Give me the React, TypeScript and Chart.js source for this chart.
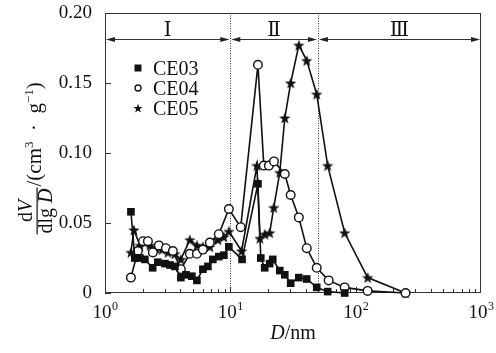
import React, { useEffect, useRef } from 'react';
import { Chart, registerables } from 'chart.js';

Chart.register(...registerables);

const FONT = '"Liberation Serif", "Times New Roman", "DejaVu Serif", serif';
const INK = '#111';

// ---- data (pore diameter D in nm, dV/dlgD in cm3/g) ----
const SERIES_NAMES = ['CE03', 'CE04', 'CE05'];

const CE03_D = [1.61, 1.73, 1.90, 2.08, 2.40, 2.64, 3.01, 3.30, 3.61, 4.03, 4.42, 4.93, 5.41, 6.04, 6.62, 7.25, 8.09, 8.88, 9.73, 12.4, 16.6, 17.5, 18.8, 20.6, 21.8, 24.8, 27.2, 30.3, 35.2, 40.7, 48.9, 59.8, 81.7];
const CE03_V = [0.058, 0.025, 0.025, 0.024, 0.018, 0.022, 0.021, 0.020, 0.019, 0.011, 0.013, 0.012, 0.009, 0.017, 0.019, 0.024, 0.026, 0.027, 0.033, 0.024, 0.078, 0.025, 0.018, 0.021, 0.024, 0.016, 0.013, 0.007, 0.011, 0.010, 0.004, 0.001, 0.0];

const CE04_D = [1.61, 1.83, 2.01, 2.20, 2.41, 2.69, 3.06, 3.48, 4.03, 4.75, 5.41, 6.04, 6.86, 8.09, 9.73, 12.1, 16.6, 18.5, 20.3, 22.3, 27.2, 30.3, 35.2, 40.7, 48.9, 60.9, 81.7, 124.6, 250];
const CE04_V = [0.011, 0.030, 0.037, 0.037, 0.029, 0.034, 0.032, 0.030, 0.017, 0.028, 0.028, 0.031, 0.036, 0.042, 0.060, 0.047, 0.163, 0.091, 0.091, 0.094, 0.085, 0.070, 0.054, 0.032, 0.018, 0.009, 0.004, 0.0015, 0.0];

const CE05_D = [1.61, 1.70, 1.90, 2.08, 2.28, 2.55, 2.85, 3.18, 3.61, 4.03, 4.75, 5.41, 6.04, 6.86, 7.96, 8.88, 9.73, 12.3, 16.3, 17.2, 18.8, 20.6, 22.2, 24.8, 27.2, 30.3, 35.2, 40.7, 48.9, 59.8, 81.7, 124.6, 250];
const CE05_V = [0.029, 0.045, 0.034, 0.036, 0.034, 0.032, 0.031, 0.029, 0.028, 0.024, 0.038, 0.034, 0.033, 0.033, 0.038, 0.040, 0.044, 0.030, 0.091, 0.039, 0.042, 0.043, 0.061, 0.086, 0.125, 0.150, 0.177, 0.166, 0.142, 0.091, 0.043, 0.011, 0.0];

const Y_TICKS = [0, 0.05, 0.1, 0.15, 0.2];
const X_DECADES = [0, 1, 2, 3];
const REGION_EDGES = [1, 10, 50, 1000];
const REGION_LABELS = ['Ⅰ', 'Ⅱ', 'Ⅲ'];
const ARROW_LEVEL = 0.1815;

function starPath(ctx: CanvasRenderingContext2D, cx: number, cy: number, R: number, r: number) {
  ctx.beginPath();
  for (let i = 0; i < 10; i++) {
    const rad = i % 2 === 0 ? R : r;
    const a = -Math.PI / 2 + (i * Math.PI) / 5;
    const x = cx + rad * Math.cos(a);
    const y = cy + rad * Math.sin(a);
    if (i === 0) ctx.moveTo(x, y);
    else ctx.lineTo(x, y);
  }
  ctx.closePath();
  ctx.fillStyle = INK;
  ctx.fill();
}

function makeStar(R: number, r: number) {
  const size = Math.ceil(R * 2 + 2);
  const c = document.createElement('canvas');
  c.width = size;
  c.height = size;
  const ctx = c.getContext('2d')!;
  starPath(ctx, size / 2, size / 2 + R * 0.1, R, r);
  return c;
}

function line(ctx: CanvasRenderingContext2D, x1: number, y1: number, x2: number, y2: number) {
  ctx.beginPath();
  ctx.moveTo(x1, y1);
  ctx.lineTo(x2, y2);
  ctx.stroke();
}

function arrowHead(ctx: CanvasRenderingContext2D, x: number, y: number, dir: number) {
  ctx.beginPath();
  ctx.moveTo(x, y);
  ctx.lineTo(x - dir * 9, y - 2.5);
  ctx.lineTo(x - dir * 9, y + 2.5);
  ctx.closePath();
  ctx.fill();
}

const decor = {
  id: 'decor',
  beforeDatasetsDraw(chart: any) {
    const { ctx, chartArea: a, scales } = chart;
    const x = scales.x;
    const y = scales.y;
    ctx.save();
    ctx.strokeStyle = '#333';
    ctx.fillStyle = '#222';
    ctx.lineWidth = 1;
    ctx.strokeRect(a.left + 0.5, a.top + 0.5, a.right - a.left - 1, a.bottom - a.top - 1);
    for (let dec = 1; dec < 1000; dec *= 10) {
      for (let m = 1; m < 10; m++) {
        const v = dec * m;
        if (v === 1) continue;
        const px = Math.round(x.getPixelForValue(v)) + 0.5;
        line(ctx, px, a.bottom, px, a.bottom - (m === 1 ? 6 : 4));
      }
    }
    for (const v of Y_TICKS) {
      const py = Math.round(y.getPixelForValue(v)) + 0.5;
      line(ctx, a.left, py, a.left + 6, py);
    }
    ctx.setLineDash([1, 1.5]);
    for (const v of REGION_EDGES.slice(1, -1)) {
      const px = Math.round(x.getPixelForValue(v)) + 0.5;
      line(ctx, px, a.top, px, a.bottom);
    }
    ctx.setLineDash([]);
    const ay = Math.round(y.getPixelForValue(ARROW_LEVEL)) + 0.5;
    ctx.font = `20px ${FONT}`;
    ctx.textAlign = 'center';
    ctx.textBaseline = 'alphabetic';
    for (let i = 0; i < REGION_LABELS.length; i++) {
      const x1 = x.getPixelForValue(REGION_EDGES[i]) + 1;
      const x2 = x.getPixelForValue(REGION_EDGES[i + 1]) - 1;
      line(ctx, x1 + 4, ay, x2 - 4, ay);
      arrowHead(ctx, x1, ay, -1);
      arrowHead(ctx, x2, ay, 1);
      ctx.fillStyle = INK;
      ctx.fillText(REGION_LABELS[i], (x1 + x2) / 2, ay - 4);
      ctx.fillStyle = '#222';
    }
    ctx.restore();
  },
  afterDraw(chart: any) {
    const { ctx, chartArea: a, scales } = chart;
    const x = scales.x;
    ctx.save();
    ctx.fillStyle = INK;
    ctx.textBaseline = 'alphabetic';
    ctx.textAlign = 'left';
    for (const d of X_DECADES) {
      const px = x.getPixelForValue(Math.pow(10, d));
      ctx.font = `19px ${FONT}`;
      const w1 = ctx.measureText('10').width;
      ctx.font = `12px ${FONT}`;
      const w2 = ctx.measureText(String(d)).width;
      const start = px - (w1 + w2) / 2;
      ctx.font = `19px ${FONT}`;
      ctx.fillText('10', start, 318);
      ctx.font = `12px ${FONT}`;
      ctx.fillText(String(d), start + w1 + 0.5, 310);
    }
    {
      const cx = (a.left + a.right) / 2;
      ctx.font = `italic 20px ${FONT}`;
      const wD = ctx.measureText('D').width;
      ctx.font = `20px ${FONT}`;
      const wR = ctx.measureText('/nm').width;
      const s = cx - (wD + wR) / 2;
      ctx.font = `italic 20px ${FONT}`;
      ctx.fillText('D', s, 339);
      ctx.font = `20px ${FONT}`;
      ctx.fillText('/nm', s + wD, 339);
    }
    // y title (rotated)
    ctx.save();
    ctx.rotate(-Math.PI / 2);
    const fracC = 211;
    const segW = (parts: [string, string][]) => {
      let w = 0;
      for (const [f, t] of parts) { ctx.font = f; w += ctx.measureText(t).width; }
      return w;
    };
    const drawParts = (parts: [string, string, number][], startY: number, baseX: number) => {
      let lx = -startY;
      for (const [f, t, dy] of parts) {
        ctx.font = f;
        ctx.fillText(t, lx, baseX + dy);
        lx += ctx.measureText(t).width;
      }
      return lx;
    };
    const R20 = `20px ${FONT}`;
    const I20 = `italic 20px ${FONT}`;
    const R21 = `21px ${FONT}`;
    const S13 = `13px ${FONT}`;
    const num: [string, string][] = [[R20, 'd'], [I20, 'V']];
    const den: [string, string][] = [[R20, 'dlg '], [I20, 'D']];
    const wn = segW(num);
    const wd = segW(den);
    drawParts(num.map(([f, t]) => [f, t, 0]) as any, fracC + wn / 2, 32);
    drawParts(den.map(([f, t]) => [f, t, 0]) as any, fracC + wd / 2, 52);
    const barHalf = Math.max(wn, wd) / 2 + 1;
    ctx.fillRect(-(fracC + barHalf), 36.5, barHalf * 2, 1.2);
    drawParts(
      [
        [R21, '/(cm', 0],
        [S13, '3', -8],
        [R21, '  ·  g', 0],
        [S13, '−1', -8],
        [R21, ')', 0],
      ],
      fracC - barHalf - 1,
      41,
    );
    ctx.restore();
    // legend
    const rows = [68, 88, 108];
    const mx = 138;
    ctx.font = `20px ${FONT}`;
    for (let i = 0; i < SERIES_NAMES.length; i++) {
      const cy = rows[i];
      ctx.fillStyle = INK;
      ctx.strokeStyle = INK;
      if (i === 0) {
        ctx.fillRect(mx - 3.5, cy - 3.5, 7, 7);
      } else if (i === 1) {
        ctx.lineWidth = 1.3;
        ctx.beginPath();
        ctx.arc(mx, cy, 3, 0, Math.PI * 2);
        ctx.stroke();
      } else {
        starPath(ctx, mx, cy + 0.5, 4.8, 2);
      }
      ctx.fillStyle = INK;
      ctx.fillText(SERIES_NAMES[i], 153, cy + 7);
    }
    ctx.restore();
  },
};

export default function App() {
  const ref = useRef<HTMLCanvasElement | null>(null);
  useEffect(() => {
    const canvas = ref.current!;
    const star = makeStar(6, 2.5);
    const pts = (ds: number[], vs: number[]) => ds.map((d, i) => ({ x: d, y: vs[i] }));
    const common = {
      showLine: true,
      borderColor: INK,
      borderWidth: 1.6,
      clip: false as any,
      pointHoverRadius: 0,
    };
    const chart = new Chart(canvas, {
      type: 'scatter',
      data: {
        datasets: [
          {
            ...common,
            label: SERIES_NAMES[0],
            data: pts(CE03_D, CE03_V),
            pointStyle: 'rect',
            pointRadius: 5.4,
            pointBackgroundColor: INK,
            pointBorderColor: INK,
            pointBorderWidth: 0,
          },
          {
            ...common,
            label: SERIES_NAMES[1],
            data: pts(CE04_D, CE04_V),
            pointStyle: 'circle',
            pointRadius: 4.3,
            pointBackgroundColor: '#fff',
            pointBorderColor: INK,
            pointBorderWidth: 1.4,
          },
          {
            ...common,
            label: SERIES_NAMES[2],
            data: pts(CE05_D, CE05_V),
            pointStyle: star as any,
            pointRadius: 6,
            pointBackgroundColor: INK,
            pointBorderColor: INK,
          },
        ],
      },
      options: {
        responsive: false,
        animation: false,
        layout: { padding: { top: 13, right: 15, left: 0, bottom: 0 } },
        plugins: { legend: { display: false }, tooltip: { enabled: false } },
        scales: {
          x: {
            type: 'logarithmic',
            min: 1,
            max: 1000,
            grid: { display: false, drawTicks: false },
            border: { display: false },
            ticks: { display: false },
            afterFit(s: any) {
              s.height = 60;
              s.paddingLeft = 0;
              s.paddingRight = 0;
            },
          },
          y: {
            type: 'linear',
            min: 0,
            max: 0.2,
            grid: { display: false, drawTicks: false },
            border: { display: false },
            ticks: {
              stepSize: 0.05,
              padding: 13,
              color: INK,
              font: { family: FONT, size: 19 },
              callback: (v: any) => (v === 0 ? '0' : Number(v).toFixed(2)),
            },
            afterFit(s: any) {
              s.width = 105;
              s.paddingTop = 0;
              s.paddingBottom = 0;
            },
          },
        },
      },
      plugins: [decor],
    });
    return () => chart.destroy();
  }, []);
  return (
    <div style={{ position: 'fixed', left: 0, top: 0, width: 496, height: 353, background: '#fff' }}>
      <canvas ref={ref} width={496} height={353} style={{ display: 'block' }} />
    </div>
  );
}
